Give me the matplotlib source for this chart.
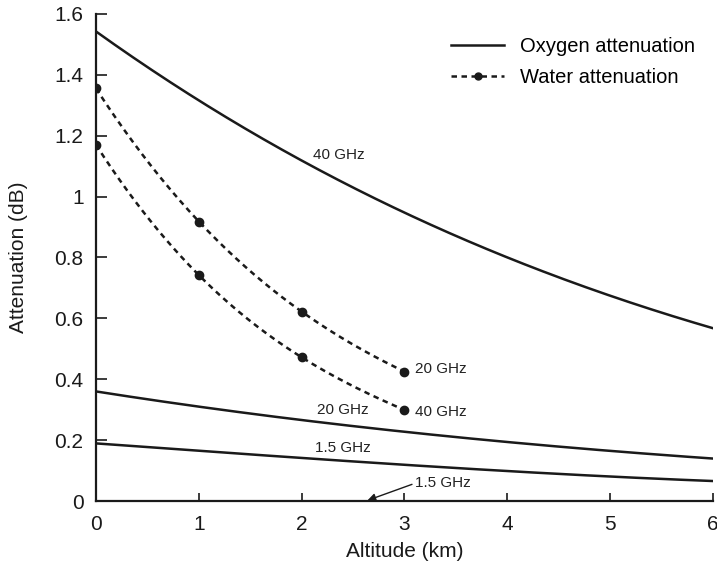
import matplotlib.pyplot as plt
import numpy as np

plt.rcParams['font.family'] = ['Liberation Sans', 'DejaVu Sans']

# oxygen attenuation curves, read at each km
alt_o2 = [0, 1, 2, 3, 4, 5, 6]
o2_40 = [1.54, 1.32, 1.12, 0.94, 0.80, 0.68, 0.565]
o2_20 = [0.36, 0.31, 0.265, 0.228, 0.195, 0.163, 0.14]
o2_15 = [0.19, 0.163, 0.142, 0.121, 0.097, 0.08, 0.066]

# water attenuation points
alt_h2o = [0, 1, 2, 3]
h2o_20 = [1.355, 0.918, 0.622, 0.425]
h2o_40 = [1.17, 0.742, 0.472, 0.299]

yticks = [0, 0.2, 0.4, 0.6, 0.8, 1.0, 1.2, 1.4, 1.6]
ylabels = ['0', '0.2', '0.4', '0.6', '0.8', '1', '1.2', '1.4', '1.6']

ink = '#1a1a1a'


def smooth(x, y, n=200):
    # draw a smooth cubic through the read points
    c = np.polyfit(x, y, 3)
    xs = np.linspace(min(x), max(x), n)
    return xs, np.polyval(c, xs)


fig = plt.figure(figsize=(7.17, 5.77), dpi=100)
ax = fig.add_axes([0.1339, 0.1317, 0.8605, 0.8443])

for i, ys in enumerate([o2_40, o2_20, o2_15]):
    xs, yy = smooth(alt_o2, ys)
    ax.plot(xs, yy, color=ink, lw=1.8,
            label='Oxygen attenuation' if i == 0 else None)

dash = (0, (2.2, 1.8))
for i, ys in enumerate([h2o_20, h2o_40]):
    xs, yy = smooth(alt_h2o, ys)
    ax.plot(xs, yy, color=ink, lw=1.8, ls=dash)
    ax.plot(alt_h2o, ys, 'o', color=ink, ms=6)

# legend proxy for water series
ax.plot([], [], color=ink, lw=1.8, ls=dash, marker='o', ms=5,
        label='Water attenuation')

fs = 11
ax.text(2.36, 1.135, '40 GHz', fontsize=fs, ha='center', va='center', color='#222222')
ax.text(2.40, 0.30, '20 GHz', fontsize=fs, ha='center', va='center', color='#222222')
ax.text(2.40, 0.175, '1.5 GHz', fontsize=fs, ha='center', va='center', color='#222222')
ax.text(3.1, 0.432, '20 GHz', fontsize=fs, ha='left', va='center', color='#222222')
ax.text(3.1, 0.292, '40 GHz', fontsize=fs, ha='left', va='center', color='#222222')
ax.annotate('1.5 GHz', xy=(2.64, 0.002), xytext=(3.1, 0.058), fontsize=fs,
            ha='left', va='center', color='#222222',
            arrowprops=dict(arrowstyle='-|>', color=ink, lw=1.0,
                            mutation_scale=12, shrinkA=0, shrinkB=0,
                            relpos=(0, 0.5)))

ax.set_xlim(0, 6)
ax.set_ylim(0, 1.6)
ax.set_xticks([0, 1, 2, 3, 4, 5, 6])
ax.set_yticks(yticks)
ax.set_yticklabels(ylabels)
ax.tick_params(direction='in', width=1.2, labelsize=15, colors=ink)
ax.tick_params(axis='y', length=8, pad=9)
ax.tick_params(axis='x', length=6, pad=10)
ax.spines['top'].set_visible(False)
ax.spines['right'].set_visible(False)
for s in ['left', 'bottom']:
    ax.spines[s].set_linewidth(1.6)
    ax.spines[s].set_color(ink)

ax.set_xlabel('Altitude (km)', fontsize=15, labelpad=6, color=ink)
ax.set_ylabel('Attenuation (dB)', fontsize=15, labelpad=19, color=ink)

ax.legend(loc='upper right', bbox_to_anchor=(1.0, 0.99), frameon=False,
          fontsize=14.5, handlelength=2.6, handletextpad=0.8, labelspacing=0.6)

plt.savefig('out.png', dpi=100)
